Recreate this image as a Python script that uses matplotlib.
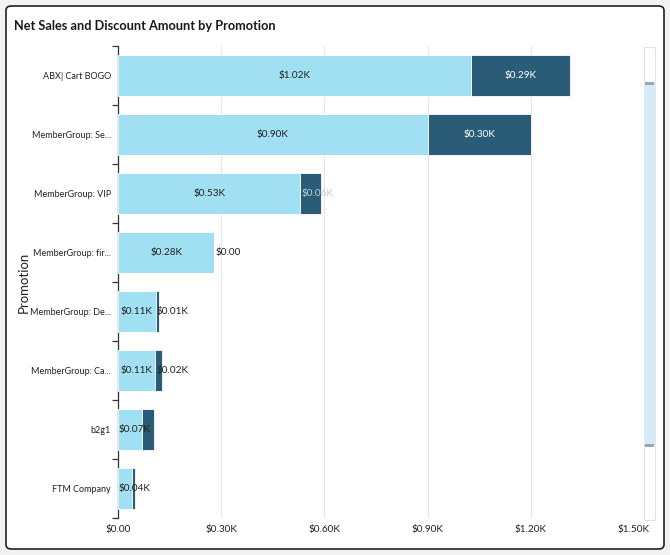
import matplotlib
matplotlib.use("Agg")
import matplotlib.pyplot as plt
from matplotlib.patches import FancyBboxPatch, Rectangle

# Datos del grafico (en miles de dolares)
promociones = ["ABX| Cart BOGO", "MemberGroup: Se...", "MemberGroup: VIP",
               "MemberGroup: fir...", "MemberGroup: De...", "MemberGroup: Ca...",
               "b2g1", "FTM Company"]
ventas_netas = [1.025, 0.90, 0.53, 0.28, 0.11, 0.108, 0.07, 0.04]
descuentos = [0.29, 0.30, 0.06, 0.0, 0.01, 0.02, 0.035, 0.01]
ticks_x = [0.0, 0.3, 0.6, 0.9, 1.2, 1.5]

COLOR_NETO = "#a0e0f2"
COLOR_DESC = "#2a5c78"
COLOR_TEXTO = "#222222"
FS = 7.2

plt.rcParams['font.family'] = ['Lato', 'DejaVu Sans']

def fmt(v):
    if v == 0:
        return "$0.00"
    return f"${v:.2f}K"

fig = plt.figure(figsize=(6.7, 5.55), dpi=100)
fig.patch.set_facecolor("#f3f3f3")

# tarjeta con borde redondeado (debajo de todo)
tarjeta = FancyBboxPatch((6 / 670, 6 / 555), 658 / 670, 543 / 555,
                         boxstyle="round,pad=0,rounding_size=0.008",
                         transform=fig.transFigure, facecolor="white",
                         edgecolor="#222222", linewidth=1.2, zorder=-5)
fig.patches.append(tarjeta)

fig.text(14 / 670, 1 - 26 / 555, "Net Sales and Discount Amount by Promotion",
         fontsize=9.2, fontweight="bold", color="#16191f", va="center", ha="left")

ax = fig.add_axes([118 / 670, 1 - 518 / 555, 516 / 670, 472 / 555])
ax.set_facecolor("none")
ax.set_zorder(2)

y = list(range(len(promociones)))
alto = 0.71
ax.barh(y, ventas_netas, height=alto, color=COLOR_NETO, edgecolor="white", linewidth=0.6, zorder=3)
ax.barh(y, descuentos, left=ventas_netas, height=alto, color=COLOR_DESC, edgecolor="white", linewidth=0.6, zorder=3)

ax.set_xlim(0, 1.5)
ax.set_ylim(len(promociones) - 0.5, -0.5)
ax.set_xticks(ticks_x)
ax.set_xticklabels([fmt(t) for t in ticks_x], fontsize=FS, color=COLOR_TEXTO)
ax.tick_params(axis="x", length=0, pad=5)
ax.set_yticks(y)
ax.set_yticklabels(promociones, fontsize=6.5, color=COLOR_TEXTO)
ax.set_yticks([i - 0.5 for i in range(len(promociones) + 1)], minor=True)
ax.tick_params(axis="y", which="major", length=0, pad=5)
ax.tick_params(axis="y", which="minor", length=4, width=0.9, color="#333333")
ax.grid(axis="x", color="#e6e6e6", linewidth=0.8, zorder=0)
for lado in ["top", "right", "bottom"]:
    ax.spines[lado].set_visible(False)
ax.spines["left"].set_color("#333333")
ax.spines["left"].set_linewidth(0.9)
ax.set_ylabel("Promotion", fontsize=9.5, color=COLOR_TEXTO)
ax.yaxis.set_label_coords(-88 / 516, 0.5)

fig.canvas.draw()
renderer = fig.canvas.get_renderer()
inv = ax.transData.inverted()

def ancho_texto(txt):
    t = ax.text(0, 0, txt, fontsize=FS)
    bb = t.get_window_extent(renderer)
    t.remove()
    p0 = inv.transform((bb.x0, 0))[0]
    p1 = inv.transform((bb.x1, 0))[0]
    return p1 - p0

margen = 0.003
for i in y:
    neto = ventas_netas[i]
    desc = descuentos[i]
    txt = fmt(neto)
    w = ancho_texto(txt)
    if w + 2 * margen < neto:
        ax.text(neto / 2, i, txt, fontsize=FS, ha="center", va="center", color=COLOR_TEXTO, zorder=4)
        fin_neto = neto / 2 + w / 2
    else:
        ax.text(margen, i, txt, fontsize=FS, ha="left", va="center", color=COLOR_TEXTO, zorder=4)
        fin_neto = margen + w
    txt2 = fmt(desc)
    w2 = ancho_texto(txt2)
    if w2 + 2 * margen < desc:
        ax.text(neto + desc / 2, i, txt2, fontsize=FS, ha="center", va="center", color="white", zorder=4)
    else:
        inicio = neto + margen
        if inicio < fin_neto:
            continue  # se oculta la etiqueta si se enciman
        # si la mayor parte cae sobre la barra oscura, texto claro
        color = "#b9d3e2" if desc > w2 * 0.5 else COLOR_TEXTO
        ax.text(inicio, i, txt2, fontsize=FS, ha="left", va="center",
                color=color, zorder=4)

# barra de desplazamiento a la derecha
fig.patches.append(Rectangle((644 / 670, 1 - 520 / 555), 11 / 670, 473 / 555, transform=fig.transFigure,
                             facecolor="white", edgecolor="#e4e4e4", linewidth=0.8, zorder=1))
fig.patches.append(Rectangle((644 / 670, 1 - 445 / 555), 11 / 670, 362 / 555, transform=fig.transFigure,
                             facecolor="#d4ebf7", edgecolor="none", zorder=2))
for yy in [83, 445]:
    fig.patches.append(Rectangle((645 / 670, 1 - (yy + 1.5) / 555), 9 / 670, 3 / 555, transform=fig.transFigure,
                                 facecolor="#9aa5ad", edgecolor="none", zorder=3))

fig.savefig("out.png", dpi=100, facecolor=fig.get_facecolor())
